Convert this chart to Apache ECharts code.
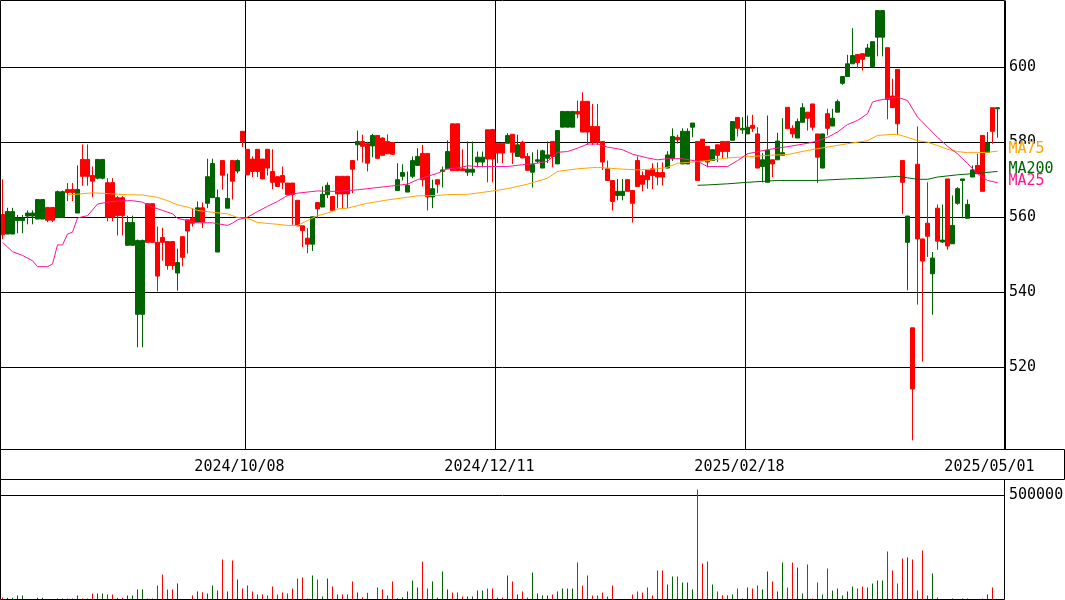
<!DOCTYPE html>
<html><head><meta charset="utf-8">
<script src="https://cdn.jsdelivr.net/npm/echarts@6/dist/echarts.min.js"></script>
<style>html,body{margin:0;padding:0;background:#fff}#c{width:1065px;height:600px}</style>
</head><body><div id="c"></div>
<script>
// [open, close, low, high]
const candles = [
[555.2,560.6,554.1,570.0],[561.4,555.4,555.4,562.4],[561.4,555.4,555.4,562.4],[559.7,559.0,555.6,560.5],[559.7,559.0,555.6,560.5],
[561.0,560.2,558.0,561.7],[561.0,560.2,558.0,561.7],[564.6,559.4,559.4,564.6],[564.6,559.4,559.4,564.6],[559.1,562.5,558.6,562.5],
[559.1,562.5,558.6,562.5],[566.7,559.8,559.8,567.0],[566.7,559.8,559.8,567.0],[566.5,567.3,564.2,569.0],[566.5,567.3,564.2,569.0],
[567.3,561.0,561.0,573.7],[570.8,575.3,568.3,579.3],[570.8,575.3,568.3,579.3],[569.5,571.0,565.2,573.4],[575.3,570.3,570.0,575.3],
[575.3,570.3,570.0,575.3],[559.9,569.1,558.8,570.3],[559.9,569.1,558.8,570.3],[560.3,565.1,555.0,565.5],[560.3,565.1,555.0,565.5],
[558.5,552.4,552.4,560.3],[558.5,552.4,552.4,560.3],[553.7,534.0,525.2,553.9],[553.7,534.0,525.2,553.9],[553.2,563.5,553.2,563.5],
[553.2,563.5,553.2,563.5],[544.2,553.2,540.1,557.4],[553.2,554.5,548.3,557.1],[547.0,553.4,545.9,553.4],[547.0,553.4,545.9,553.4],
[547.8,545.0,540.3,551.5],[549.2,554.7,546.8,554.7],[556.2,559.2,550.2,559.2],[558.3,559.6,557.4,562.3],[562.4,558.6,558.6,564.1],
[558.6,562.4,557.0,563.8],[570.7,563.6,562.3,575.5],[574.2,565.1,565.1,575.5],[565.1,550.6,550.6,567.3],[571.1,575.0,567.2,575.0],
[564.9,562.3,562.3,571.5],[569.5,575.0,564.6,575.0],[575.0,572.2,571.6,575.3],[580.1,582.8,578.6,582.8],[571.2,578.0,571.2,578.0],
[572.1,575.4,570.6,576.1],[572.1,578.0,570.6,578.0],[570.1,575.4,570.1,575.4],[573.0,578.0,571.0,578.0],[569.2,572.1,567.4,578.0],
[568.1,570.7,568.1,570.7],[569.2,571.0,567.4,573.4],[565.9,569.0,565.9,569.0],[565.9,569.0,557.9,569.0],[557.6,564.4,557.6,564.4],
[556.3,557.6,551.9,557.6],[552.7,554.3,550.3,557.0],[560.0,552.7,550.9,560.0],[562.1,563.8,559.6,563.8],[566.0,562.6,562.6,568.1],
[568.4,565.9,565.0,569.2],[561.7,565.4,561.7,565.4],[566.1,570.8,562.3,570.8],[566.1,570.8,562.3,570.8],[566.1,570.8,562.3,570.8],
[572.7,575.0,566.3,575.0],[580.1,579.2,575.0,583.0],[578.8,580.1,574.5,581.9],[574.3,579.5,572.1,580.0],[581.7,578.9,575.9,582.1],
[575.6,581.7,575.4,581.7],[576.4,581.0,576.4,581.2],[576.8,580.1,576.8,582.0],[576.7,579.8,576.5,579.8],[569.9,567.0,567.0,574.3],
[571.8,570.8,569.7,574.0],[568.4,566.6,566.6,572.1],[575.0,570.8,570.3,576.1],[576.1,573.7,573.7,578.3],[569.9,576.9,568.1,579.2],
[565.3,576.9,561.7,576.9],[567.5,565.3,562.3,569.9],[568.7,569.9,566.3,569.9],[572.5,572.1,567.8,573.4],[577.4,572.8,572.8,580.4],
[572.3,584.8,572.3,584.8],[572.3,584.8,572.3,584.8],[572.3,572.8,572.3,578.0],[572.7,571.9,570.9,580.1],[572.7,571.9,570.9,580.1],
[575.9,574.6,573.2,577.4],[575.9,574.6,573.2,577.4],[575.4,583.2,569.2,583.2],[575.4,583.3,569.2,583.4],[577.0,579.6,574.3,579.6],
[577.0,579.6,574.3,579.6],[581.7,579.6,579.6,582.3],[577.2,582.0,574.1,582.0],[579.2,576.1,576.1,581.9],[575.7,579.9,575.7,580.3],
[572.4,576.1,572.4,577.0],[573.9,571.9,567.8,577.2],[575.2,574.8,574.3,577.9],[577.6,573.0,573.0,577.9],[576.5,575.6,574.3,580.1],
[576.1,580.1,573.2,580.1],[583.0,574.1,574.1,583.0],[588.1,583.9,583.9,588.1],[588.1,583.9,583.9,588.1],[588.1,583.9,583.9,588.1],
[587.4,588.1,586.3,591.0],[582.6,590.8,582.6,593.2],[582.6,590.8,579.2,590.8],[579.9,584.1,579.2,590.1],[579.9,584.1,579.2,590.1],
[574.6,580.1,572.5,580.1],[569.7,572.8,569.7,575.0],[564.1,569.7,561.7,569.7],[566.8,565.7,564.4,570.1],[566.8,565.7,564.4,570.1],
[566.8,569.9,566.8,570.1],[563.6,567.0,558.5,567.0],[568.1,575.0,568.1,576.1],[568.7,571.0,566.8,572.1],[569.9,572.4,567.5,572.4],
[571.0,572.8,567.4,574.3],[570.6,571.8,568.4,574.5],[570.6,571.8,568.4,574.5],[576.5,573.0,573.0,577.5],[581.4,575.5,574.9,583.6],
[580.5,581.2,579.5,581.9],[582.8,574.1,574.1,583.6],[582.8,574.1,574.1,583.6],[585.0,583.9,581.2,585.0],[569.7,580.1,569.7,580.1],
[575.0,580.7,575.0,580.7],[574.6,578.8,573.2,578.8],[577.9,575.0,575.0,577.9],[576.4,579.2,574.6,579.2],[577.4,580.1,575.6,580.1],
[577.4,580.1,575.6,580.1],[585.4,580.4,580.4,585.4],[583.6,586.5,581.4,586.5],[583.6,583.2,582.1,586.6],[583.9,582.1,582.1,587.0],
[583.6,584.4,582.6,587.2],[573.0,582.1,573.0,583.9],[575.2,573.4,569.2,577.0],[577.7,569.2,569.2,587.0],[574.1,575.2,570.6,575.2],
[580.2,575.2,575.2,582.4],[577.1,576.4,576.4,586.3],[583.5,589.2,583.5,589.2],[582.1,583.6,581.1,584.4],[585.4,581.0,581.0,586.2],
[589.1,585.2,585.2,590.3],[586.3,587.9,583.0,587.9],[583.9,590.1,583.0,590.1],[575.9,582.1,569.0,582.1],[582.1,573.0,573.0,582.1],
[583.6,587.5,581.7,588.8],[586.3,584.2,584.2,588.8],[590.7,587.9,587.9,591.3],[597.4,595.6,595.2,597.4],[600.8,597.4,597.4,603.2],
[603.0,600.8,600.8,610.3],[601.1,603.3,599.6,603.3],[602.0,603.5,599.0,603.5],[605.0,602.8,602.8,606.1],[606.7,600.0,600.0,606.7],
[615.0,607.9,602.8,615.0],[615.0,607.9,602.8,615.0],[591.3,605.1,586.0,605.1],[589.1,592.2,589.1,596.8],[584.8,599.3,582.0,599.3],
[569.2,575.0,560.8,575.0],[560.2,553.2,540.4,560.2],[514.1,530.4,500.4,530.4],[554.1,574.0,536.6,584.1],[548.2,554.1,521.4,554.1],
[554.8,558.3,549.3,569.2],[549.0,544.8,533.9,550.6],[553.5,562.3,551.2,563.3],[553.8,553.3,553.0,563.3],[552.2,570.1,551.2,570.1],
[557.7,552.8,552.8,565.7],[567.5,563.6,563.2,567.9],[570.1,569.7,559.6,570.1],[563.3,559.6,559.6,564.6],[572.5,570.6,570.6,573.7],
[571.5,573.7,571.5,576.8],[566.8,581.7,566.8,581.7],[579.7,577.2,577.2,582.6],[582.8,589.1,579.5,589.1],[589.1,588.8,581.1,589.1]
];
const volumes = [
9600,8000,8000,19000,19000,1000,1000,8000,8000,2000,2000,5000,5000,5000,5000,19000,5000,5000,29000,29000,
29000,24000,24000,8000,8000,19000,19000,48000,48000,5000,5000,67000,120000,48000,48000,77000,1000,1000,19000,38000,
35000,29000,67000,43000,192000,38000,188000,96000,53000,67000,38000,24000,24000,19000,63000,24000,34000,29000,53000,101000,
106000,5000,115000,96000,14000,101000,63000,24000,24000,24000,87000,34000,11000,32000,2000,58000,48000,19000,87000,6000,
11000,38000,91000,58000,183000,53000,87000,10000,135000,48000,34000,34000,14000,14000,14000,43000,43000,53000,53000,10000,
10000,115000,87000,24000,38000,10000,130000,29000,19000,19000,24000,38000,53000,53000,53000,178000,67000,115000,19000,19000,
34000,14000,67000,3000,3000,2000,24000,38000,34000,58000,19000,139000,139000,72000,111000,111000,82000,82000,48000,529000,
173000,183000,72000,38000,20000,20000,24000,53000,5000,58000,53000,67000,48000,135000,87000,38000,178000,58000,178000,154000,
29000,168000,5000,82000,24000,149000,43000,53000,19000,38000,63000,53000,63000,58000,77000,91000,91000,231000,139000,77000,
197000,202000,192000,43000,236000,19000,125000,10000,1000,1000,5000,1000,5000,5000,1000,1000,5000,24000,58000,1000
];
// moving averages: [day index, value]
const ma25Pts = [[0,553.2],[2,550.7],[4,549.7],[6,548.3],[7,546.7],[9,546.7],[10,547.4],[11,552.5],[12,552.5],[13,555.4],[14,555.9],[15,559.7],[17,560.3],[19,563.4],[21,563.9],[23,564.2],[25,564.3],[26,564.3],[28,563.9],[30,562.6],[32,561.7],[34,560.8],[35,559.6],[37,559.0],[39,558.4],[42,558.4],[45,557.7],[46,558.3],[47,559.2],[49,559.9],[51,561.4],[53,562.8],[55,564.1],[57,565.7],[59,566.3],[61,566.6],[63,566.9],[65,566.8],[67,566.8],[69,567.0],[71,567.2],[73,567.5],[77,568.1],[81,568.7],[83,569.9],[85,570.8],[87,571.6],[89,572.8],[91,573.0],[93,573.6],[95,573.4],[97,573.4],[101,573.4],[104,573.9],[107,574.3],[109,574.8],[111,577.2],[113,577.4],[115,578.3],[117,579.4],[119,579.4],[121,578.6],[124,577.9],[126,576.7],[129,575.7],[131,575.2],[133,575.5],[136,575.5],[139,574.8],[141,573.4],[143,573.4],[145,573.4],[147,575.0],[149,576.8],[153,577.9],[157,578.7],[161,579.6],[163,580.2],[165,581.2],[167,582.6],[169,584.6],[171,585.7],[173,587.5],[174,590.6],[175,591.0],[177,591.5],[179,591.9],[181,591.0],[183,586.6],[185,583.9],[187,581.2],[189,578.8],[191,576.8],[193,574.2],[195,571.5],[197,569.7],[199,569.1]];
const ma75Pts = [[13,565.8],[18,566.4],[25,565.9],[28,565.8],[31,565.2],[33,564.3],[35,563.2],[37,562.6],[39,561.7],[42,561.2],[45,560.8],[47,559.8],[49,559.6],[51,558.5],[55,558.0],[57,557.7],[59,557.7],[61,559.0],[63,560.3],[65,561.0],[67,562.1],[69,562.3],[71,563.0],[73,563.6],[77,564.5],[81,565.2],[83,565.6],[87,565.7],[89,565.9],[93,566.0],[96,566.5],[99,567.1],[101,567.5],[105,568.7],[109,570.3],[111,572.1],[115,572.8],[119,573.2],[123,572.8],[127,572.5],[131,572.8],[133,573.2],[135,574.3],[137,574.5],[141,575.0],[145,575.7],[149,576.0],[153,576.4],[157,576.6],[161,577.7],[165,578.6],[169,579.5],[173,580.3],[175,581.7],[177,581.9],[179,582.0],[181,581.2],[183,580.3],[185,579.9],[187,579.0],[189,578.0],[191,577.4],[193,577.1],[195,577.1],[197,577.2],[199,577.5]];
const ma200Pts = [[139,568.4],[141,568.5],[145,568.8],[149,569.2],[155,569.7],[163,569.7],[169,570.1],[173,570.3],[177,570.6],[179,570.8],[181,570.4],[183,570.0],[185,570.0],[187,570.6],[191,571.2],[195,571.6],[199,572.1]];
const tickDates = ['2024/10/08','2024/12/11','2025/02/18','2025/05/01'];
const tickIdx = [49, 99, 149, 199];
const gridLineIdx = [49, 99, 149];
const priceTicks = [520, 540, 560, 580, 600];
const volTicks = [500000];

const UP = '#ff0000', DOWN = '#006400';
const FONT = 'DejaVu Sans Mono';
const N = candles.length;
const categories = [];
for (let i = 0; i <= N; i++) categories.push(String(i));
tickIdx.forEach((ix, k) => { categories[ix] = tickDates[k]; });
function fill(pts) { const a = new Array(N).fill(null); pts.forEach(p => { a[p[0]] = p[1]; }); return a; }
const volData = volumes.map((v, i) => ({ value: v, itemStyle: { color: candles[i][1] >= candles[i][0] ? UP : DOWN } }));

const MAIN = {left: 0, top: 0.5, width: 5 * (N + 1), height: 449};
const VOL = {left: 0, top: 479.5, width: 5 * (N + 1), height: 120};

const chart = echarts.init(document.getElementById('c'), null, {renderer: 'canvas'});
function maSeries(name, pts, color) {
  return {
    type: 'line', name, data: fill(pts), xAxisIndex: 0, yAxisIndex: 0, connectNulls: true,
    showSymbol: false, symbol: 'none', lineStyle: {color, width: 1}, itemStyle: {color},
    endLabel: {show: true, formatter: name, color, fontFamily: FONT, fontSize: 15, distance: 11,
      offset: [0, -2], backgroundColor: '#fff', lineHeight: 11, padding: 0},
    emphasis: {disabled: true}, silent: true
  };
}
chart.setOption({
  animation: false,
  backgroundColor: '#fff',
  grid: [
    Object.assign({show: false, containLabel: false, outerBoundsMode: 'none'}, MAIN),
    Object.assign({show: false, containLabel: false, outerBoundsMode: 'none'}, VOL),
    {left: 0, top: 449.5, width: 1064, height: 30, show: false, containLabel: false, outerBoundsMode: 'none'}
  ],
  xAxis: [
    {type: 'category', gridIndex: 0, data: categories, boundaryGap: true,
     axisLine: {show: false}, axisTick: {show: false},
     axisLabel: {interval: (i) => tickIdx.includes(i), fontFamily: FONT, fontSize: 15, color: '#000',
       margin: 10, padding: [0, 16, 0, 0]},
     splitLine: {show: true, interval: (i) => gridLineIdx.includes(i), lineStyle: {color: '#000', width: 1}}},
    {type: 'category', gridIndex: 1, data: categories, boundaryGap: true,
     axisLine: {show: false}, axisTick: {show: false}, axisLabel: {show: false}, splitLine: {show: false}},
    {type: 'category', gridIndex: 2, show: false, data: []}
  ],
  yAxis: [
    {type: 'value', gridIndex: 0, position: 'right', min: 497.95, max: 617.68, scale: true,
     axisLine: {show: false}, axisTick: {show: false, customValues: priceTicks},
     axisLabel: {customValues: priceTicks, fontFamily: FONT, fontSize: 15, color: '#000', margin: 4,
       formatter: (v) => String(v)},
     splitLine: {show: true, lineStyle: {color: '#000', width: 1}}},
    {type: 'value', gridIndex: 1, position: 'right', min: 0, max: 577000,
     axisLine: {show: false}, axisTick: {show: false, customValues: volTicks},
     axisLabel: {customValues: volTicks, fontFamily: FONT, fontSize: 15, color: '#000', margin: 4,
       formatter: (v) => String(v)},
     splitLine: {show: true, lineStyle: {color: '#000', width: 1}}},
    {type: 'value', gridIndex: 2, show: false}
  ],
  graphic: [
    {type: 'rect', silent: true, z: 100, shape: {x: 0.5, y: 0.5, width: 1004, height: 449}, style: {fill: null, stroke: '#000', lineWidth: 1}},
    {type: 'rect', silent: true, z: 100, shape: {x: 0.5, y: 449.5, width: 1064, height: 30}, style: {fill: null, stroke: '#000', lineWidth: 1}},
    {type: 'rect', silent: true, z: 100, shape: {x: 0.5, y: 479.5, width: 1004, height: 120}, style: {fill: null, stroke: '#000', lineWidth: 1}}
  ],
  series: [
    {type: 'candlestick', name: 'price', xAxisIndex: 0, yAxisIndex: 0, data: candles, barWidth: 4,
     itemStyle: {color: UP, color0: DOWN, borderColor: UP, borderColor0: DOWN, borderWidth: 1},
     emphasis: {disabled: true}, silent: true},
    maSeries('MA75', ma75Pts, '#ffa500'),
    maSeries('MA200', ma200Pts, '#006400'),
    maSeries('MA25', ma25Pts, '#ff1493'),
    {type: 'bar', name: 'volume', xAxisIndex: 1, yAxisIndex: 1, data: volData, barWidth: 1,
     emphasis: {disabled: true}, silent: true}
  ]
});
</script></body></html>
